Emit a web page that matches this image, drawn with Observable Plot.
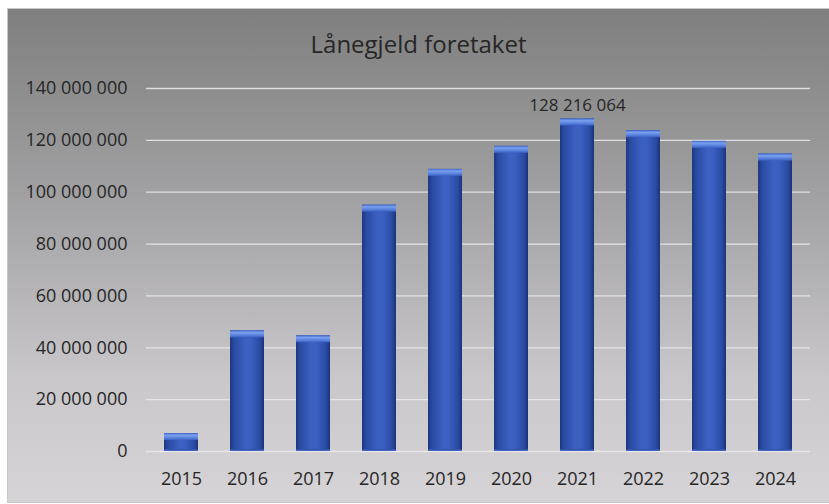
<!DOCTYPE html>
<html>
<head>
<meta charset="utf-8">
<script src="https://cdn.jsdelivr.net/npm/d3@7"></script>
<script src="https://cdn.jsdelivr.net/npm/@observablehq/plot@0.6"></script>
<style>
  html, body { margin: 0; padding: 0; background: #ffffff; }
  body { position: relative; width: 829px; height: 504px; overflow: hidden; font-family: "Open Sans", sans-serif; }
  #frame {
    position: absolute; left: 7px; top: 8px; width: 830px; height: 495px;
    box-sizing: border-box; border: 1px solid #c8c8c8;
    background: linear-gradient(to bottom, #7f7f7f 0%, #a3a2a4 40%, #c9c7ca 75%, #d6d4d7 100%);
  }
  #title {
    position: absolute; left: 8px; width: 821px; top: 18px; line-height: 52px;
    text-align: center; font-size: 24px; color: #262626; font-family: "Open Sans", sans-serif;
  }
  #chart { position: absolute; left: 8px; top: 70px; }
</style>
</head>
<body>
<div id="frame"></div>
<div id="title">Lånegjeld foretaket</div>
<div id="chart"></div>
<script>
const years = ["2015","2016","2017","2018","2019","2020","2021","2022","2023","2024"];
const values = [6900000, 46500000, 44600000, 95000000, 108800000, 117700000, 128216064, 123700000, 119600000, 114700000];
const yTicks = [0, 20000000, 40000000, 60000000, 80000000, 100000000, 120000000, 140000000];
const labelled = ["2021"];

const data = years.map((y, i) => ({year: y, value: values[i]}));
const labelData = data.filter(d => labelled.includes(d.year));
const fmt = d3.formatLocale({decimal: ",", thousands: " ", grouping: [3], currency: ["", ""]}).format(",d");

const plot = Plot.plot({
  width: 821,
  height: 433,
  marginLeft: 138,
  marginRight: 19,
  marginTop: 18,
  marginBottom: 52,
  style: {background: "transparent", fontFamily: "Open Sans, sans-serif", fontSize: "18px", color: "#262626"},
  x: {domain: years, paddingInner: 0.49, paddingOuter: 0.245, label: null, tickSize: 0, tickPadding: 21},
  y: {domain: [0, 140000000], ticks: yTicks, tickFormat: fmt, label: null, tickSize: 0, tickPadding: 19},
  marks: [
    Plot.gridY(yTicks, {stroke: "#ececec", strokeOpacity: 0.85, strokeWidth: 1.3}),
    Plot.barY(data, {x: "year", y: "value", fill: "url(#barGrad)"}),
    Plot.barY(data, {x: "year", y1: "value", y2: "value", insetBottom: -7, fill: "url(#capGrad)"}),
    Plot.barY(data, {x: "year", y1: 0, y2: 0, insetTop: -2, fill: "url(#botGrad)"}),
    Plot.axisY({ticks: yTicks, tickFormat: fmt, tickSize: 0, tickPadding: 19, fontSize: 18, fill: "#262626"}),
    Plot.axisX({tickSize: 0, tickPadding: 21, fontSize: 18, fill: "#262626"}),
    Plot.text(labelData, {x: "year", y: "value", text: d => fmt(d.value), dy: -14, fontSize: 17, fill: "#262626"})
  ]
});

const svg = d3.select(plot);
const defs = svg.insert("defs", ":first-child");
const g1 = defs.append("linearGradient").attr("id", "barGrad").attr("x1", "0").attr("x2", "1").attr("y1", "0").attr("y2", "0");
[[0, "#1c377f"], [0.12, "#2a4ba3"], [0.45, "#3b60c2"], [0.6, "#3b60c2"], [0.88, "#2a4ba3"], [1, "#1a3278"]]
  .forEach(([o, c]) => g1.append("stop").attr("offset", o).attr("stop-color", c));
const g2 = defs.append("linearGradient").attr("id", "capGrad").attr("x1", "0").attr("x2", "0").attr("y1", "0").attr("y2", "1");
[[0, "#4068c8"], [0.3, "#7aa0ee"], [0.65, "#5b84de"], [1, "#3b60c2"]]
  .forEach(([o, c]) => g2.append("stop").attr("offset", o).attr("stop-color", c));
const g3 = defs.append("linearGradient").attr("id", "botGrad").attr("x1", "0").attr("x2", "0").attr("y1", "0").attr("y2", "1");
[[0, "#2a4aa0"], [1, "#4a6fca"]]
  .forEach(([o, c]) => g3.append("stop").attr("offset", o).attr("stop-color", c));

document.getElementById("chart").appendChild(plot);
</script>
</body>
</html>
